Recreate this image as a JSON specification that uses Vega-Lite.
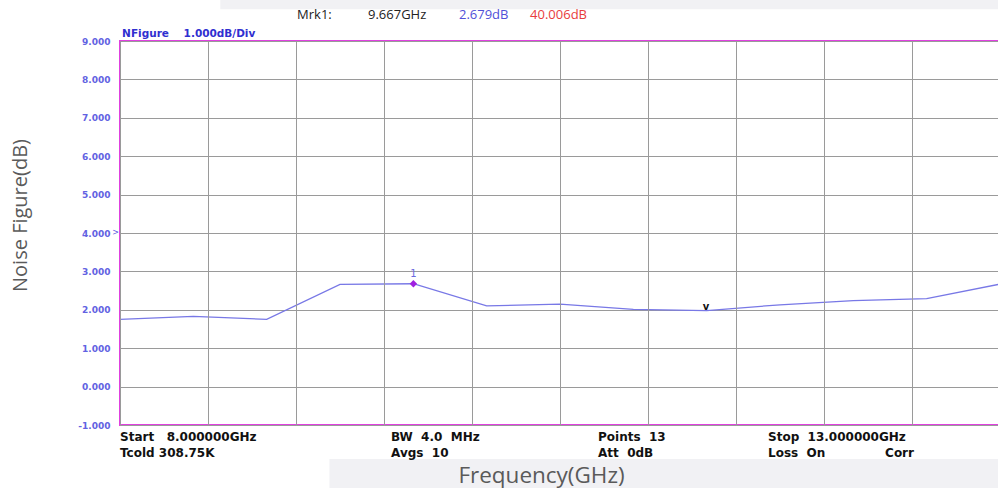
{
  "$schema": "https://vega.github.io/schema/vega-lite/v6.json",
  "width": 880,
  "height": 384,
  "autosize": {"type": "none"},
  "padding": {"left": 120, "top": 41, "right": 0, "bottom": 63},
  "background": "white",
  "config": {
    "view": {"stroke": "#e040e0", "strokeWidth": 2},
    "font": "DejaVu Sans",
    "axis": {"labelOverlap": false}
  },
  "datasets": {
    "trace": [
      {"freq": 8.0, "nf": 1.75},
      {"freq": 8.4167, "nf": 1.83},
      {"freq": 8.8333, "nf": 1.75},
      {"freq": 9.25, "nf": 2.66},
      {"freq": 9.6667, "nf": 2.679},
      {"freq": 10.0833, "nf": 2.10},
      {"freq": 10.5, "nf": 2.15},
      {"freq": 10.9167, "nf": 2.01},
      {"freq": 11.3333, "nf": 1.98},
      {"freq": 11.75, "nf": 2.13},
      {"freq": 12.1667, "nf": 2.24},
      {"freq": 12.5833, "nf": 2.29},
      {"freq": 13.0, "nf": 2.67}
    ],
    "marker": [{"freq": 9.667, "nf": 2.679, "label": "1"}],
    "minmark": [{"freq": 11.33, "nf": 2.06, "label": "v"}],
    "refmark": [{"freq": 7.975, "nf": 4.0, "label": ">"}],
    "band": [
      {"freq": 9.19, "freq2": 13.1, "nf": -1.885, "nf2": -2.7},
      {"freq": 8.57, "freq2": 13.1, "nf": 10.1, "nf2": 9.83}
    ],
    "info": [
      {"freq": 8.0, "nf": -1.31, "label": "Start\u00a0\u00a0\u00a08.000000GHz"},
      {"freq": 8.0, "nf": -1.73, "label": "Tcold\u00a0308.75K"},
      {"freq": 9.54, "nf": -1.31, "label": "BW\u00a0\u00a04.0\u00a0\u00a0MHz"},
      {"freq": 9.54, "nf": -1.73, "label": "Avgs\u00a0\u00a010"},
      {"freq": 10.716, "nf": -1.31, "label": "Points\u00a0\u00a013"},
      {"freq": 10.716, "nf": -1.73, "label": "Att\u00a0\u00a00dB"},
      {"freq": 11.682, "nf": -1.31, "label": "Stop\u00a0\u00a013.000000GHz"},
      {"freq": 11.682, "nf": -1.73, "label": "Loss\u00a0\u00a0On"},
      {"freq": 12.347, "nf": -1.73, "label": "Corr"}
    ],
    "head": [
      {"freq": 8.012, "nf": 9.18, "label": "NFigure\u00a0\u00a0\u00a0\u00a01.000dB/Div"}
    ],
    "mrk": [
      {"freq": 9.006, "nf": 9.68, "label": "Mrk1:", "kind": "a"},
      {"freq": 9.409, "nf": 9.68, "label": "9.667GHz", "kind": "a"},
      {"freq": 9.926, "nf": 9.68, "label": "2.679dB", "kind": "b"},
      {"freq": 10.33, "nf": 9.68, "label": "40.006dB", "kind": "c"}
    ]
  },
  "encoding": {
    "x": {
      "field": "freq", "type": "quantitative",
      "scale": {"domain": [8, 13], "nice": false, "zero": false},
      "axis": {
        "values": [8, 8.5, 9, 9.5, 10, 10.5, 11, 11.5, 12, 12.5, 13],
        "labels": false, "ticks": false, "domain": false,
        "grid": true, "gridColor": "#9a9a9a", "gridWidth": 1,
        "zindex": 1,
        "title": "Frequency(GHz)",
        "titleFont": "Open Sans", "titleFontSize": 22.5, "titleFontWeight": "normal",
        "titleColor": "#5a5a5a",
        "titleX": 421, "titleY": 50, "titleAlign": "center", "titleBaseline": "middle"
      }
    },
    "y": {
      "field": "nf", "type": "quantitative",
      "scale": {"domain": [-1, 9], "nice": false, "zero": false},
      "axis": {
        "values": [-1, 0, 1, 2, 3, 4, 5, 6, 7, 8, 9],
        "labelExpr": "datum.value < 0 ? '-' + format(-datum.value, '.3f') : format(datum.value, '.3f')",
        "labelOverlap": false,
        "labelColor": "#6262e2", "labelFont": "DejaVu Sans", "labelFontSize": 9, "labelFontWeight": "bold",
        "labelPadding": 10,
        "ticks": false, "domain": false,
        "grid": true, "gridColor": "#9a9a9a", "gridWidth": 1,
        "title": "Noise Figure(dB)",
        "titleFont": "Open Sans", "titleFontSize": 20, "titleFontWeight": "normal",
        "titleColor": "#5a5a5a",
        "titleX": -100, "titleY": 174, "titleAlign": "center", "titleBaseline": "middle", "titleAngle": -90
      }
    }
  },
  "layer": [
    {
      "data": {"name": "trace"},
      "mark": {"type": "line", "color": "#7878e6", "strokeWidth": 1.3, "clip": true}
    },
    {
      "data": {"name": "band"},
      "mark": {"type": "rect", "color": "#f1f1f4", "clip": false},
      "encoding": {
        "x2": {"field": "freq2"},
        "y2": {"field": "nf2"}
      }
    },
    {
      "data": {"name": "marker"},
      "mark": {"type": "point", "shape": "diamond", "filled": true, "color": "#a020e0", "size": 55, "opacity": 1}
    },
    {
      "data": {"name": "marker"},
      "mark": {"type": "text", "color": "#6a6ae0", "fontSize": 10, "baseline": "bottom", "dy": -5},
      "encoding": {"text": {"field": "label"}}
    },
    {
      "data": {"name": "minmark"},
      "mark": {"type": "text", "color": "#111111", "fontSize": 10, "fontWeight": "bold", "baseline": "middle"},
      "encoding": {"text": {"field": "label"}}
    },
    {
      "data": {"name": "refmark"},
      "mark": {"type": "text", "color": "#5a5ae0", "fontSize": 8, "baseline": "middle", "align": "center", "clip": false},
      "encoding": {"text": {"field": "label"}}
    },
    {
      "data": {"name": "info"},
      "mark": {"type": "text", "color": "#111111", "font": "DejaVu Sans", "fontSize": 12, "fontWeight": "bold", "align": "left", "baseline": "middle", "clip": false},
      "encoding": {"text": {"field": "label"}}
    },
    {
      "data": {"name": "head"},
      "mark": {"type": "text", "color": "#3030d0", "font": "DejaVu Sans", "fontSize": 10.5, "fontWeight": "bold", "align": "left", "baseline": "middle", "clip": false},
      "encoding": {"text": {"field": "label"}}
    },
    {
      "data": {"name": "mrk"},
      "mark": {"type": "text", "font": "Open Sans", "fontSize": 13, "align": "left", "baseline": "middle", "clip": false},
      "encoding": {
        "text": {"field": "label"},
        "color": {
          "field": "kind", "type": "nominal",
          "scale": {"domain": ["a", "b", "c"], "range": ["#222222", "#5050d8", "#e83c3c"]},
          "legend": null
        }
      }
    }
  ]
}
